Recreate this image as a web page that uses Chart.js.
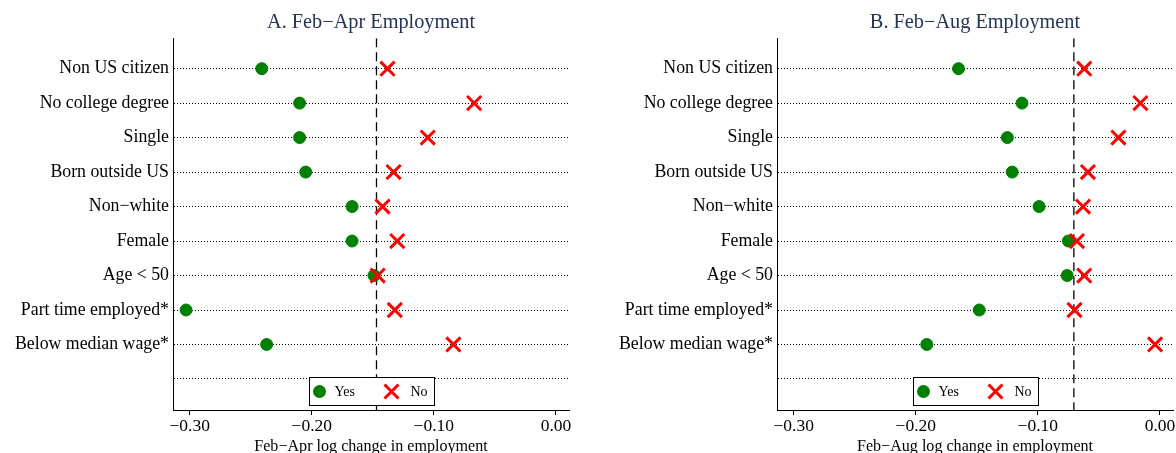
<!DOCTYPE html>
<html>
<head>
<meta charset="utf-8">
<script src="https://cdn.jsdelivr.net/npm/chart.js@4.4.1/dist/chart.umd.min.js"></script>
<style>
    html, body { margin: 0; padding: 0; background: #fff; overflow: hidden; }
    .panel { position: absolute; top: 0; width: 588px; height: 453px; }
    #panelA { left: 0; }
    #panelB { left: 588px; width: 640px; }
</style>
</head>
<body>
<div class="panel" id="panelA"><canvas id="chartA"></canvas></div>
<div class="panel" id="panelB"><canvas id="chartB"></canvas></div>
<script>
// Data
const groups = ['Non US citizen', 'No college degree', 'Single', 'Born outside US',
    'Non\u2212white', 'Female', 'Age < 50', 'Part time employed*', 'Below median wage*', ''];

// Feb-Apr
const aprYes = [-0.241, -0.210, -0.210, -0.205, -0.167, -0.167, -0.149, -0.303, -0.237];
const aprNo  = [-0.138, -0.067, -0.105, -0.133, -0.142, -0.130, -0.146, -0.132, -0.084];
const aprOverall = -0.147;

// Feb-Aug
const augYes = [-0.165, -0.113, -0.125, -0.121, -0.099, -0.075, -0.076, -0.148, -0.191];
const augNo  = [-0.062, -0.016, -0.034, -0.059, -0.063, -0.068, -0.062, -0.070, -0.004];
const augOverall = -0.0705;

const xTicks = [-0.30, -0.20, -0.10, 0.00];
const xMin = -0.3137, xMax = 0.0107;
const yMin = -0.88, yMax = 9.9;

Chart.defaults.font.family = "'Liberation Serif', 'Times New Roman', serif";
Chart.defaults.color = '#000';

const yesColor = '#008000';
const noColor = '#ff0000';

// legend box drawn inside the plot, centred at the bottom
const boxLegend = {
    id: 'boxLegend',
    afterDatasetsDraw(chart) {
        const { ctx, chartArea } = chart;
        const w = 125, h = 28;
        const left = Math.round((chartArea.left + chartArea.right) / 2 - w / 2) + 0.5;
        const top = Math.round(chartArea.bottom - 5 - h) + 0.5;
        const cy = top + h / 2;
        ctx.save();
        ctx.fillStyle = '#fff';
        ctx.strokeStyle = '#000';
        ctx.lineWidth = 1;
        ctx.fillRect(left, top, w, h);
        ctx.strokeRect(left, top, w, h);

        const yesSet = chart.data.datasets[1];
        const noSet = chart.data.datasets[2];

        // Yes marker
        ctx.fillStyle = yesColor;
        ctx.beginPath();
        ctx.arc(left + 10, cy, 6.5, 0, Math.PI * 2);
        ctx.fill();
        // No marker
        ctx.strokeStyle = noColor;
        ctx.lineWidth = 3;
        const cx = left + 82, d = 7;
        ctx.beginPath();
        ctx.moveTo(cx - d, cy - d); ctx.lineTo(cx + d, cy + d);
        ctx.moveTo(cx - d, cy + d); ctx.lineTo(cx + d, cy - d);
        ctx.stroke();

        ctx.fillStyle = '#000';
        ctx.font = "14px 'Liberation Serif', serif";
        ctx.textBaseline = 'middle';
        ctx.fillText(yesSet.label, left + 25, cy + 1);
        ctx.fillText(noSet.label, left + 101, cy + 1);
        ctx.restore();
    }
};

function toPoints(values) {
    return values.map((v, i) => ({ x: v, y: i }));
}

function makeChart(id, title, yes, no, overall, xTitle, yWidth, padRight) {
    new Chart(document.getElementById(id), {
        type: 'scatter',
        data: {
            datasets: [
                {
                    label: 'Overall',
                    type: 'line',
                    data: [{ x: overall, y: yMin }, { x: overall, y: yMax }],
                    borderColor: '#000',
                    borderWidth: 1.3,
                    borderDash: [9, 5],
                    pointRadius: 0,
                    order: 3
                },
                {
                    label: 'Yes',
                    data: toPoints(yes),
                    pointStyle: 'circle',
                    pointRadius: 6,
                    pointBorderWidth: 1,
                    backgroundColor: yesColor,
                    borderColor: yesColor,
                    order: 2
                },
                {
                    label: 'No',
                    data: toPoints(no),
                    pointStyle: 'crossRot',
                    pointRadius: 10,
                    pointBorderWidth: 3,
                    backgroundColor: noColor,
                    borderColor: noColor,
                    order: 1
                }
            ]
        },
        options: {
            responsive: true,
            maintainAspectRatio: false,
            animation: false,
            layout: { padding: { left: 0, right: padRight, top: 0, bottom: 0 } },
            plugins: {
                legend: { display: false },
                tooltip: { enabled: false },
                title: {
                    display: true,
                    fullSize: false,
                    text: title,
                    color: '#23335a',
                    font: { size: 20.3, weight: 'normal', lineHeight: 1 },
                    padding: { top: 13, bottom: 5 }
                }
            },
            scales: {
                x: {
                    type: 'linear',
                    min: xMin,
                    max: xMax,
                    afterBuildTicks: axis => { axis.ticks = xTicks.map(v => ({ value: v })); },
                    afterFit: axis => { axis.height = 43; axis.paddingLeft = 0; axis.paddingRight = 0; },
                    border: { display: true, color: '#000', width: 1 },
                    grid: { drawOnChartArea: false, drawTicks: true, tickLength: 5, color: '#000' },
                    ticks: {
                        padding: 1,
                        maxRotation: 0,
                        font: { size: 17.5 },
                        callback: v => (v < 0 ? '\u2212' : '') + Math.abs(v).toFixed(2)
                    },
                    title: {
                        display: true,
                        text: xTitle,
                        font: { size: 16.1, lineHeight: 1 },
                        padding: { top: 0, bottom: -2 }
                    }
                },
                y: {
                    type: 'linear',
                    reverse: true,
                    min: yMin,
                    max: yMax,
                    afterBuildTicks: axis => { axis.ticks = groups.map((g, i) => ({ value: i })); },
                    afterFit: axis => { axis.width = yWidth; axis.paddingTop = 0; axis.paddingBottom = 0; },
                    border: { display: true, color: '#000', width: 1, dash: [1, 2] },
                    grid: { drawTicks: false, color: '#000', lineWidth: 1 },
                    ticks: {
                        padding: 4,
                        font: { size: 17.8 },
                        callback: v => groups[v]
                    }
                }
            }
        },
        plugins: [boxLegend]
    });
}

makeChart('chartA', 'A. Feb\u2212Apr Employment', aprYes, aprNo, aprOverall,
    'Feb\u2212Apr log change in employment', 173, 19);
makeChart('chartB', 'B. Feb\u2212Aug Employment', augYes, augNo, augOverall,
    'Feb\u2212Aug log change in employment', 189, 55);
</script>
</body>
</html>
